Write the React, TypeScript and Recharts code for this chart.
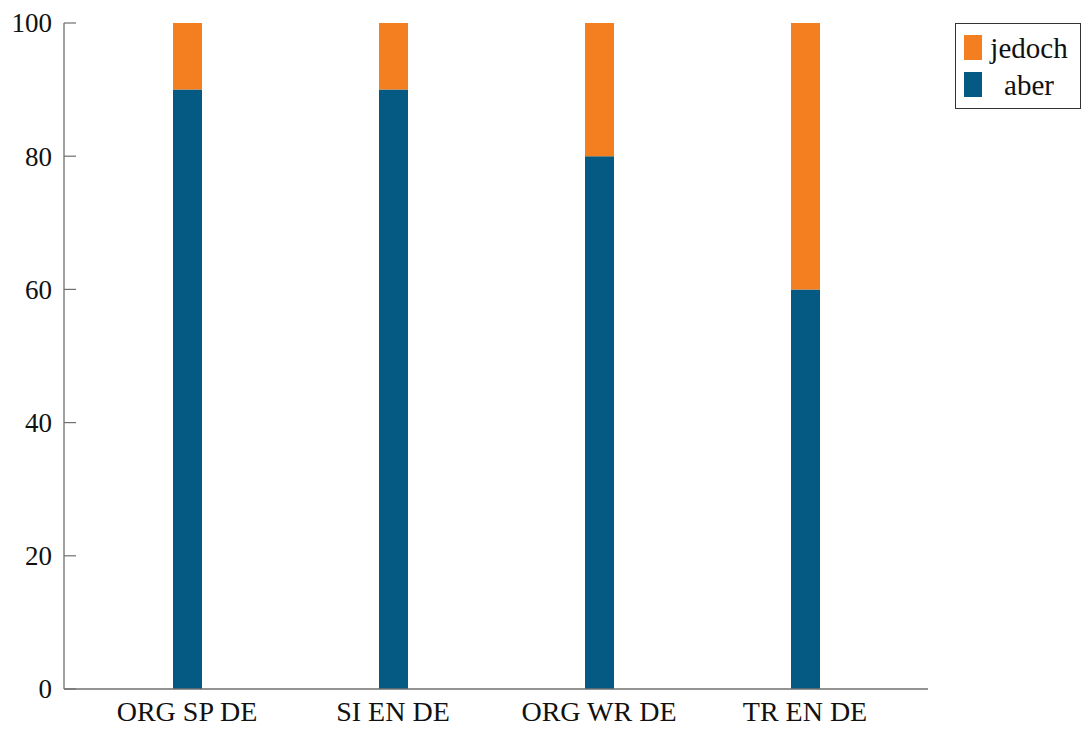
import React from "react";
import { BarChart, Bar, XAxis, YAxis } from "recharts";

const categories = ["ORG SP DE", "SI EN DE", "ORG WR DE", "TR EN DE"];
const aberValues = [90, 90, 80, 60];
const jedochValues = [10, 10, 20, 40];
const yTicks = [0, 20, 40, 60, 80, 100];

const BLUE = "#045A82";
const ORANGE = "#F47F20";
const AXIS = "#6f6f6f";
const FONT = "'Liberation Serif', 'DejaVu Serif', serif";

const data = categories.map((c, i) => ({
  name: c,
  aber: aberValues[i],
  jedoch: jedochValues[i],
}));

const legendItems = [
  { name: "jedoch", color: ORANGE },
  { name: "aber", color: BLUE },
];

const YTick = (props: any) => {
  const { x, y, payload } = props;
  return (
    <g>
      <line x1={x} y1={y} x2={x + 12} y2={y} stroke={AXIS} strokeWidth={1.2} />
      <text
        x={x - 12}
        y={y}
        dy="0.35em"
        textAnchor="end"
        fontFamily={FONT}
        fontSize={27}
        fill="#111"
      >
        {payload.value}
      </text>
    </g>
  );
};

const XTick = (props: any) => {
  const { x, y, payload } = props;
  return (
    <text
      x={x}
      y={y}
      dy="0.71em"
      textAnchor="middle"
      fontFamily={FONT}
      fontSize={28}
      fill="#111"
    >
      {payload.value}
    </text>
  );
};

const LegendBox = () => (
  <div
    style={{
      position: "absolute",
      left: 955,
      top: 23,
      border: "1.3px solid #333",
      background: "#fff",
      width: 126,
      height: 86,
      boxSizing: "border-box",
      padding: "5px 0 0 8px",
      fontFamily: FONT,
      fontSize: 29,
      color: "#111",
    }}
  >
    {legendItems.map((it) => (
      <div
        key={it.name}
        style={{ display: "flex", alignItems: "center", height: 37 }}
      >
        <span
          style={{
            display: "inline-block",
            width: 18,
            height: 25,
            background: it.color,
            marginRight: 4,
          }}
        />
        <span style={{ width: 86, textAlign: "center", lineHeight: "30px" }}>
          {it.name}
        </span>
      </div>
    ))}
  </div>
);

export default function App() {
  return (
    <div
      style={{
        position: "absolute",
        left: 0,
        top: 0,
        width: 1082,
        height: 729,
        background: "#fff",
      }}
    >
      <BarChart
        width={1082}
        height={729}
        data={data}
        margin={{ top: 23, right: 154, bottom: 0, left: 0 }}
      >
        <XAxis
          dataKey="name"
          height={40}
          padding={{ left: 20, right: 20 }}
          tickLine={false}
          tickSize={0}
          tickMargin={12}
          axisLine={{ stroke: AXIS, strokeWidth: 1.3 }}
          tick={<XTick />}
          interval={0}
        />
        <YAxis
          width={64}
          domain={[0, 100]}
          ticks={yTicks}
          tickLine={false}
          tickSize={0}
          tickMargin={0}
          axisLine={{ stroke: AXIS, strokeWidth: 1.3 }}
          tick={<YTick />}
        />
        <Bar
          dataKey="aber"
          stackId="s"
          fill={BLUE}
          barSize={29}
          isAnimationActive={false}
        />
        <Bar
          dataKey="jedoch"
          stackId="s"
          fill={ORANGE}
          barSize={29}
          isAnimationActive={false}
        />
      </BarChart>
      <LegendBox />
    </div>
  );
}
